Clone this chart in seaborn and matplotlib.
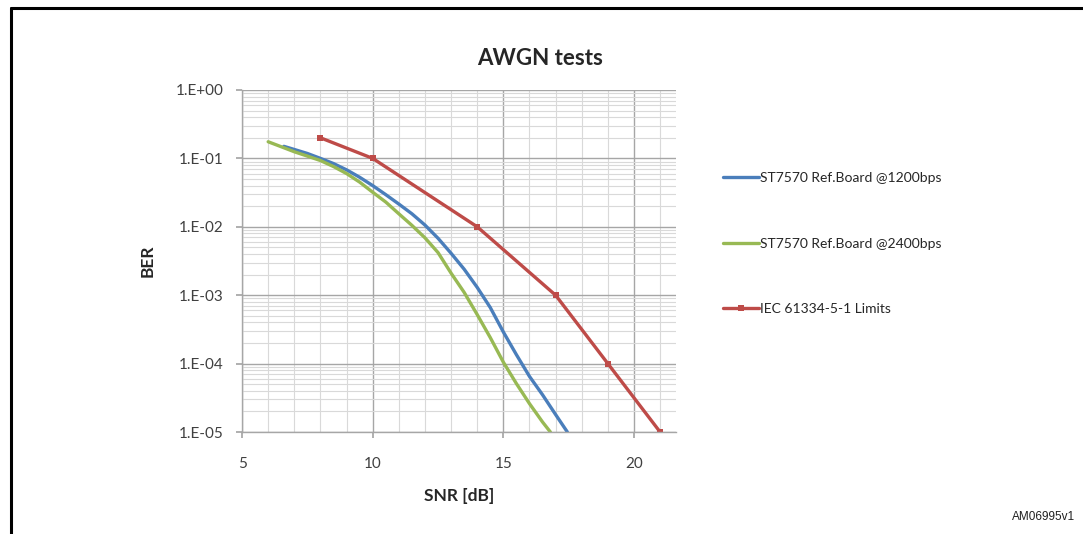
import numpy as np
import pandas as pd
import matplotlib
matplotlib.use('Agg')
import matplotlib.pyplot as plt
from matplotlib.ticker import MultipleLocator, LogLocator, FuncFormatter, NullFormatter
from matplotlib.lines import Line2D
import seaborn as sns

sns.set_theme(style='white')
plt.rcParams['font.family'] = ['Lato', 'DejaVu Sans']

# values
snr_1200 = [6.6, 7, 7.5, 8, 8.5, 9, 9.5, 10, 10.5, 11, 11.5, 12, 12.5, 13, 13.5, 14, 14.5, 15, 15.5, 16, 16.5, 17, 17.45]
ber_1200 = [0.15, 0.135, 0.118, 0.1, 0.084, 0.068, 0.053, 0.04, 0.0295, 0.0215, 0.0155, 0.0106, 0.0068, 0.0041, 0.0024,
            0.0013, 0.00066, 0.00029, 0.000135, 6.5e-5, 3.5e-5, 1.8e-5, 1e-5]

snr_2400 = [6.0, 6.5, 7, 7.5, 8, 8.5, 9, 9.5, 10, 10.5, 11, 11.5, 12, 12.5, 13, 13.5, 14, 14.5, 15, 15.5, 16, 16.5, 16.8]
ber_2400 = [0.175, 0.148, 0.125, 0.108, 0.093, 0.076, 0.06, 0.045, 0.032, 0.023, 0.0155, 0.0105, 0.0069, 0.0042, 0.0021,
            0.0011, 0.00052, 0.00024, 0.000105, 5.1e-5, 2.6e-5, 1.4e-5, 1e-5]

snr_iec = [8, 10, 14, 17, 19, 21]
ber_iec = [0.2, 0.1, 0.01, 0.001, 1e-4, 1e-5]

labels = ['ST7570 Ref.Board @1200bps', 'ST7570 Ref.Board @2400bps', 'IEC 61334-5-1 Limits']
colors = ['#4a7ebb', '#98b954', '#be4b48']

fig = plt.figure(figsize=(10.83, 5.34), dpi=100)
ax = fig.add_axes([0.2235, 0.191, 0.4005, 0.6405])

sns.lineplot(x=snr_1200, y=ber_1200, ax=ax, color=colors[0], lw=2.4, label=labels[0], sort=False)
sns.lineplot(x=snr_2400, y=ber_2400, ax=ax, color=colors[1], lw=2.4, label=labels[1], sort=False)
sns.lineplot(x=snr_iec, y=ber_iec, ax=ax, color=colors[2], lw=2.4, label=labels[2],
             marker='s', markersize=4.5, markeredgewidth=0, sort=False)

ax.set_yscale('log')
ax.set_ylim(1e-5, 1)
ax.set_xlim(5, 21.6)

ax.xaxis.set_major_locator(MultipleLocator(5))
ax.xaxis.set_minor_locator(MultipleLocator(1))
ax.yaxis.set_major_locator(LogLocator(base=10, numticks=10))
ax.yaxis.set_minor_locator(LogLocator(base=10, subs=np.arange(2, 10), numticks=20))
ax.yaxis.set_major_formatter(FuncFormatter(lambda v, p: f'1.E{int(round(np.log10(v))):+03d}'))
ax.yaxis.set_minor_formatter(NullFormatter())

ax.grid(which='major', color='#a6a6a6', lw=1.0)
ax.grid(which='minor', color='#d9d9d9', lw=0.8)
ax.set_axisbelow(True)
for s in ['top', 'right']:
    ax.spines[s].set_visible(False)
for s in ['left', 'bottom']:
    ax.spines[s].set_color('#a6a6a6')
    ax.spines[s].set_linewidth(1.0)

ax.tick_params(axis='both', which='major', labelsize=11, labelcolor='#404040',
               length=4, color='#a6a6a6', direction='out', left=True, bottom=True, pad=9)
ax.tick_params(axis='both', which='minor', length=0)
ax.tick_params(axis='x', pad=14)

ax.set_xlabel('SNR [dB]', fontsize=12.5, fontweight='bold', color='#262626', labelpad=12)
ax.set_ylabel('BER', fontsize=12.5, fontweight='bold', color='#262626', labelpad=15)
ax.set_title('AWGN tests', fontsize=16, fontweight='bold', color='#262626', pad=18, x=0.687)

leg = ax.legend(loc='upper left', bbox_to_anchor=(0.662, 0.688), bbox_transform=fig.transFigure,
                frameon=False, fontsize=10, handlelength=2.6, handletextpad=0.1,
                labelspacing=3.85, borderaxespad=0)
for t in leg.get_texts():
    t.set_color('#262626')

fig.text(0.9925, 0.032, 'AM06995v1', fontsize=8.5, family='Liberation Sans', ha='right', va='center', color='#202020')

# outer figure frame (top and left edge)
fig.add_artist(Line2D([11 / 1083, 1.0], [1 - 8 / 534, 1 - 8 / 534], transform=fig.transFigure, color='black', lw=2.2))
fig.add_artist(Line2D([11 / 1083, 11 / 1083], [0.0, 1 - 8 / 534], transform=fig.transFigure, color='black', lw=2.2))

fig.savefig('out.png', dpi=100)
